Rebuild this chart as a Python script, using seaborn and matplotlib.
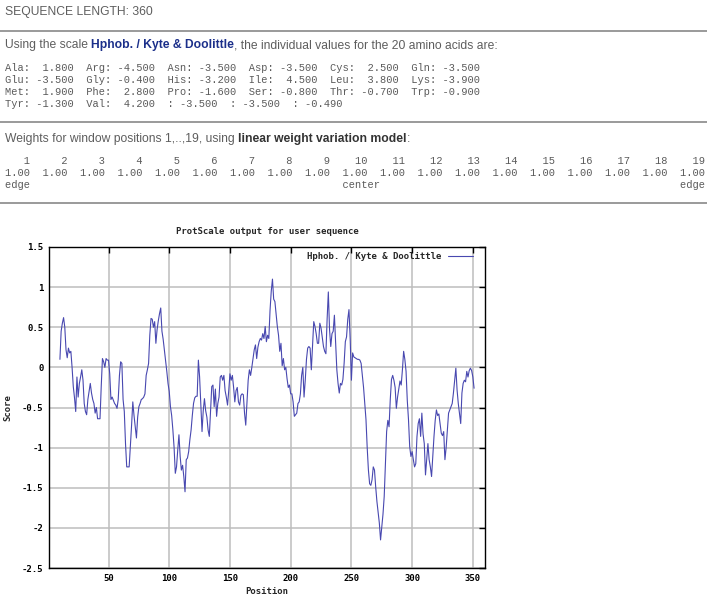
import matplotlib
matplotlib.use("Agg")
import matplotlib.pyplot as plt
from matplotlib.lines import Line2D
import numpy as np
import pandas as pd
import seaborn as sns

W, H = 707, 599

# --- page data -------------------------------------------------------------
seq_length = 360
scale_name = "Hphob. / Kyte & Doolittle"

aa_names = ["Ala", "Arg", "Asn", "Asp", "Cys", "Gln",
            "Glu", "Gly", "His", "Ile", "Leu", "Lys",
            "Met", "Phe", "Pro", "Ser", "Thr", "Trp",
            "Tyr", "Val", "", "", ""]
aa_values = [1.8, -4.5, -3.5, -3.5, 2.5, -3.5,
             -3.5, -0.4, -3.2, 4.5, 3.8, -3.9,
             1.9, 2.8, -1.6, -0.8, -0.7, -0.9,
             -1.3, 4.2, -3.5, -3.5, -0.49]

window_positions = list(range(1, 20))
window_weights = [1.00] * 19
window_marks = {1: "edge", 10: "center", 19: "edge"}

# --- profile data (window 19, positions 10..351) ---------------------------
first_pos = 10
scores = [
    0.10, 0.45, 0.55, 0.62, 0.50, 0.22, 0.12, 0.24, 0.18, 0.20,
    0.00, -0.24, -0.38, -0.55, -0.12, -0.37, -0.20, -0.12, -0.03, -0.16,
    -0.45, -0.55, -0.59, -0.40, -0.30, -0.20, -0.32, -0.40, -0.45, -0.57,
    -0.50, -0.64, -0.64, -0.64, -0.24, 0.11, 0.07, 0.00, 0.11, 0.09,
    0.09, -0.08, -0.40, -0.37, -0.41, -0.45, -0.47, -0.51, -0.40, -0.10,
    0.07, 0.05, -0.40, -0.55, -0.95, -1.24, -1.24, -1.24, -0.99, -0.72,
    -0.43, -0.60, -0.74, -0.88, -0.62, -0.49, -0.45, -0.40, -0.39, -0.37,
    -0.33, -0.10, -0.03, 0.05, 0.40, 0.61, 0.60, 0.50, 0.57, 0.30,
    0.47, 0.58, 0.67, 0.74, 0.45, 0.35, 0.22, 0.10, -0.05, -0.20,
    -0.30, -0.49, -0.60, -0.78, -1.00, -1.32, -1.24, -1.03, -0.84, -1.11,
    -1.28, -1.22, -1.36, -1.55, -1.15, -1.13, -1.05, -0.90, -0.78, -0.60,
    -0.45, -0.38, -0.36, -0.36, 0.09, -0.12, -0.45, -0.80, -0.54, -0.39,
    -0.54, -0.62, -0.78, -0.86, -0.54, -0.24, -0.22, -0.49, -0.27, -0.61,
    -0.45, -0.37, -0.12, -0.10, -0.16, -0.10, -0.29, -0.37, -0.47, -0.29,
    -0.08, -0.16, -0.10, -0.25, -0.43, -0.29, -0.25, -0.43, -0.47, -0.35,
    -0.33, -0.34, -0.57, -0.72, -0.45, -0.16, -0.03, -0.10, 0.00, 0.11,
    0.22, 0.28, 0.11, 0.25, 0.32, 0.36, 0.34, 0.42, 0.36, 0.51,
    0.32, 0.40, 0.36, 0.71, 0.95, 1.10, 0.85, 0.82, 0.67, 0.51,
    0.40, 0.20, 0.30, 0.02, 0.11, -0.03, 0.00, -0.14, -0.25, -0.22,
    -0.33, -0.33, -0.43, -0.61, -0.59, -0.57, -0.45, -0.43, -0.33, -0.10,
    0.00, -0.37, -0.16, 0.10, 0.24, 0.26, 0.24, -0.03, 0.28, 0.57,
    0.51, 0.42, 0.30, 0.30, 0.55, 0.49, 0.38, 0.26, 0.20, 0.17,
    0.60, 0.94, 0.47, 0.26, 0.42, 0.45, 0.65, 0.30, -0.03, -0.20,
    -0.32, -0.20, -0.22, -0.15, 0.05, 0.32, 0.38, 0.60, 0.72, 0.35,
    -0.16, 0.18, 0.13, 0.12, 0.11, 0.10, 0.10, 0.09, 0.05, -0.10,
    -0.25, -0.45, -0.65, -1.00, -1.28, -1.45, -1.47, -1.40, -1.24, -1.28,
    -1.49, -1.67, -1.80, -1.94, -2.15, -1.99, -1.83, -1.61, -1.20, -0.80,
    -0.66, -0.74, -0.40, -0.15, -0.10, -0.16, -0.25, -0.51, -0.37, -0.27,
    -0.17, -0.22, -0.03, 0.20, 0.10, -0.05, -0.41, -0.65, -0.99, -1.11,
    -1.05, -1.15, -1.24, -1.20, -0.86, -0.70, -0.64, -0.86, -0.57, -0.83,
    -0.95, -1.34, -1.15, -0.95, -1.15, -1.24, -1.36, -1.11, -0.86, -0.66,
    -0.53, -0.60, -0.58, -0.70, -0.82, -0.85, -0.80, -1.15, -1.00, -0.78,
    -0.57, -0.53, -0.49, -0.45, -0.32, -0.16, -0.01, -0.28, -0.45, -0.57,
    -0.70, -0.32, -0.20, -0.16, -0.18, -0.05, -0.12, -0.04, -0.01, -0.04,
    -0.12, -0.26,
]
positions = list(range(first_pos, first_pos + len(scores)))

x_ticks = [50, 100, 150, 200, 250, 300, 350]
y_ticks = [-2.5, -2, -1.5, -1, -0.5, 0, 0.5, 1, 1.5]

# --- style -----------------------------------------------------------------
sns.set_style("white")
plt.rcParams["font.family"] = ["Liberation Sans", "DejaVu Sans"]

TEXT_GREY = "#5e5e5e"
MONO_GREY = "#5a5a5a"
RULE_GREY = "#9a9a9a"
LINK_BLUE = "#1b2f8a"
LINE_BLUE = "#4848b0"
GRID_GREY = "#bdbdbd"

fig = plt.figure(figsize=(W / 100, H / 100), dpi=100)
renderer = fig.canvas.get_renderer()


def fy(y_px):
    return 1 - y_px / H


def runs(x_px, y_px, parts, size=8.7):
    """Write consecutive pieces of styled text on one baseline."""
    x = x_px
    for txt, kw in parts:
        t = fig.text(x / W, fy(y_px), txt, va="center", ha="left",
                     fontsize=size, **kw)
        x += t.get_window_extent(renderer).width


def rule(y_px):
    fig.add_artist(Line2D([0, 1], [fy(y_px), fy(y_px)],
                          transform=fig.transFigure, color=RULE_GREY, lw=1.4))


mono = dict(family="Liberation Mono", fontsize=7.45, color=MONO_GREY,
            va="center", ha="left")

# header
fig.text(5 / W, fy(12), f"SEQUENCE LENGTH: {seq_length}", fontsize=8.7,
         color=TEXT_GREY, va="center", ha="left")
rule(31)

runs(5, 45, [
    ("Using the scale ", dict(color=TEXT_GREY)),
    (scale_name, dict(color=LINK_BLUE, fontweight="bold")),
    (", the individual values for the 20 amino acids are:", dict(color=TEXT_GREY)),
])

cells = [f"{n}: {v:6.3f}" for n, v in zip(aa_names, aa_values)]
for r in range(4):
    line = "  ".join(cells[r * 6:(r + 1) * 6])
    fig.text(5 / W, fy(68 + r * 12), line, **mono)
rule(122)

runs(5, 139, [
    (f"Weights for window positions 1,..,{len(window_positions)}, using ",
     dict(color=TEXT_GREY)),
    ("linear weight variation model", dict(color="#333333", fontweight="bold")),
    (":", dict(color=TEXT_GREY)),
])
row_pos = "".join(f"{p:4d}  " for p in window_positions).rstrip()
row_w = "".join(f"{w:4.2f}  " for w in window_weights).rstrip()
row_lab = "".join(f"{window_marks.get(p, ''):<6}" for p in window_positions).rstrip()
for i, line in enumerate([row_pos, row_w, row_lab]):
    fig.text(5 / W, fy(161 + i * 12), line, **mono)
rule(203)

# --- chart -----------------------------------------------------------------
ax = fig.add_axes([49 / W, 1 - 568 / H, 436 / W, 321 / H])
df = pd.DataFrame({"Position": positions, "Score": scores})
sns.lineplot(data=df, x="Position", y="Score", ax=ax, color=LINE_BLUE,
             linewidth=0.8, estimator=None, label=scale_name)

chart_font = dict(family="DejaVu Sans Mono", fontweight="bold", fontsize=6.5)

ax.set_xlim(1, seq_length)
ax.set_ylim(-2.5, 1.5)
ax.set_xticks(x_ticks)
ax.set_yticks(y_ticks)
ax.set_xticklabels([f"{v:g}" for v in x_ticks], **chart_font)
ax.set_yticklabels([f"{v:g}" for v in y_ticks], **chart_font)
ax.tick_params(direction="in", length=4, width=1, top=True, right=True,
               colors="black", pad=4)
ax.grid(True, color=GRID_GREY, linewidth=1.1)
for s in ax.spines.values():
    s.set_color("black")
    s.set_linewidth(1)

ax.set_title("ProtScale output for user sequence", pad=9, **chart_font)
ax.set_xlabel("Position", labelpad=3, **chart_font)
ax.set_ylabel("Score", **chart_font)
ax.yaxis.set_label_coords(-0.085, 0.5)

leg = ax.legend(loc="upper right", bbox_to_anchor=(0.973, 0.985),
                frameon=False, markerfirst=False, handlelength=2.8,
                handletextpad=0.7, borderpad=0, borderaxespad=0,
                prop=dict(family="DejaVu Sans Mono", weight="bold", size=6.5))

fig.savefig("out.png", dpi=100)
